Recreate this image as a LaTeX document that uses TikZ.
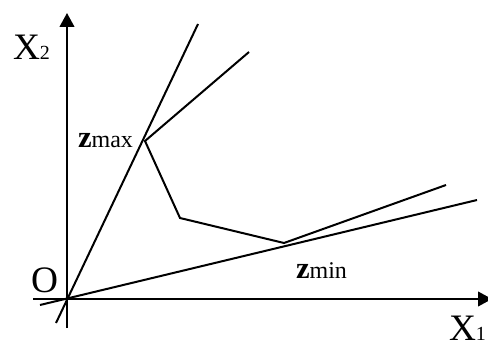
\documentclass[tikz,border=0pt]{standalone}
\usepackage{fontspec}
\setmainfont{Liberation Serif}
\usetikzlibrary{arrows.meta}

\begin{document}
\begin{tikzpicture}[
    x=0.75pt, y=-0.75pt,
    line width=1.5pt,
    axis/.style={-{Triangle[width=11pt,length=10.5pt]}},
    ray/.style={line cap=butt},
    path/.style={line join=miter},
    biglbl/.style={font=\fontsize{28}{30}\selectfont, inner sep=0pt, anchor=base west},
    zlbl/.style={inner sep=0pt, anchor=base west},
]
\useasboundingbox (0,0) rectangle (488,349);

% ============ AXES ============
\coordinate (O) at (67,299);
\coordinate (xlo) at (33,299);
\coordinate (xhi) at (492,299);
\coordinate (ylo) at (67,328);
\coordinate (yhi) at (67,13);
\draw[axis] (xlo) -- (xhi);
\draw[axis] (ylo) -- (yhi);

% ============ RAYS THROUGH O ============
\coordinate (s0) at (56,323);
\coordinate (s1) at (198,24);
\coordinate (f0) at (40,305);
\coordinate (f1) at (477,200);
\draw[ray] (s0) -- (s1);
\draw[ray] (f0) -- (f1);

% ============ POLYLINE ============
\coordinate (p0) at (249,52);
\coordinate (zmax) at (145,141);
\coordinate (p2) at (180,218);
\coordinate (zmin) at (284,243);
\coordinate (p4) at (446,185);
\draw[path] (p0) -- (zmax) -- (p2) -- (zmin) -- (p4);

% ============ LABELS ============
\node[biglbl] (lx2) at (12,60) {X{\fontsize{15}{16}\selectfont 2}};
\node[biglbl] (lo) at (30,292) {O};
\node[biglbl] (lx1) at (448,340) {X{\fontsize{15}{16}\selectfont 1}};
\node[zlbl] (lzmax) at (77,147) {{\fontsize{23}{24}\selectfont\bfseries z}{\fontsize{18}{19}\selectfont max}};
\node[zlbl] (lzmin) at (295,278) {{\fontsize{23}{24}\selectfont\bfseries z}{\fontsize{18}{19}\selectfont min}};

\end{tikzpicture}
\end{document}
